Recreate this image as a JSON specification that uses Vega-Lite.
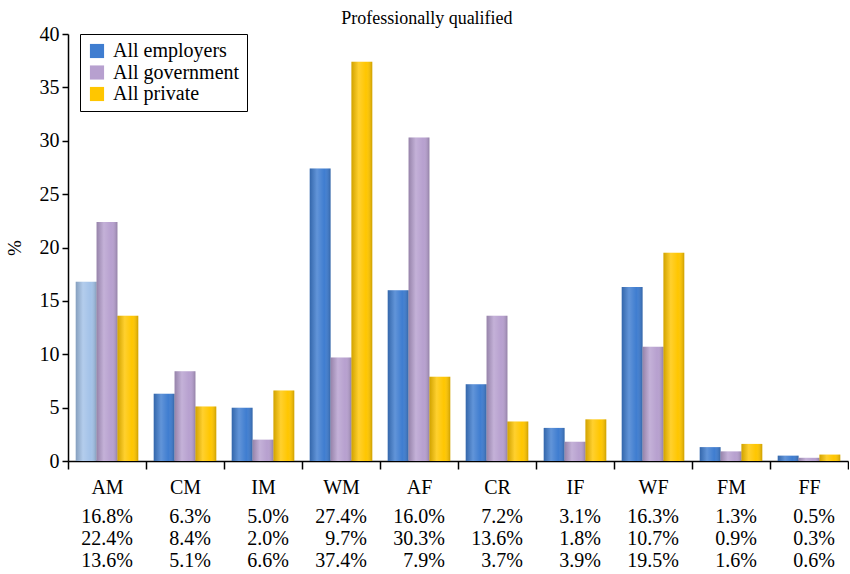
{
  "$schema": "https://vega.github.io/schema/vega-lite/v6.json",
  "padding": {"left": 5, "top": 10, "right": 0, "bottom": 0},
  "background": "white",
  "title": {"text": "Professionally qualified", "font": "Liberation Serif", "fontSize": 18, "fontWeight": "normal", "color": "black", "anchor": "middle", "offset": -4},
  "datasets": {
    "d": [
      {"cat": "AM", "series": "All employers", "value": 16.8},
      {"cat": "AM", "series": "All government", "value": 22.4},
      {"cat": "AM", "series": "All private", "value": 13.6},
      {"cat": "CM", "series": "All employers", "value": 6.3},
      {"cat": "CM", "series": "All government", "value": 8.4},
      {"cat": "CM", "series": "All private", "value": 5.1},
      {"cat": "IM", "series": "All employers", "value": 5.0},
      {"cat": "IM", "series": "All government", "value": 2.0},
      {"cat": "IM", "series": "All private", "value": 6.6},
      {"cat": "WM", "series": "All employers", "value": 27.4},
      {"cat": "WM", "series": "All government", "value": 9.7},
      {"cat": "WM", "series": "All private", "value": 37.4},
      {"cat": "AF", "series": "All employers", "value": 16.0},
      {"cat": "AF", "series": "All government", "value": 30.3},
      {"cat": "AF", "series": "All private", "value": 7.9},
      {"cat": "CR", "series": "All employers", "value": 7.2},
      {"cat": "CR", "series": "All government", "value": 13.6},
      {"cat": "CR", "series": "All private", "value": 3.7},
      {"cat": "IF", "series": "All employers", "value": 3.1},
      {"cat": "IF", "series": "All government", "value": 1.8},
      {"cat": "IF", "series": "All private", "value": 3.9},
      {"cat": "WF", "series": "All employers", "value": 16.3},
      {"cat": "WF", "series": "All government", "value": 10.7},
      {"cat": "WF", "series": "All private", "value": 19.5},
      {"cat": "FM", "series": "All employers", "value": 1.3},
      {"cat": "FM", "series": "All government", "value": 0.9},
      {"cat": "FM", "series": "All private", "value": 1.6},
      {"cat": "FF", "series": "All employers", "value": 0.5},
      {"cat": "FF", "series": "All government", "value": 0.3},
      {"cat": "FF", "series": "All private", "value": 0.6}
    ]
  },
  "spacing": 9,
  "vconcat": [
    {
      "width": 780,
      "height": 427,
      "data": {"name": "d"},
      "encoding": {
        "x": {
          "field": "cat", "type": "nominal",
          "sort": ["AM","CM","IM","WM","AF","CR","IF","WF","FM","FF"],
          "scale": {"paddingInner": 0, "paddingOuter": 0},
          "axis": {"title": null, "labelAngle": 0, "tickBand": "extent", "tickSize": 8, "labelPadding": 8, "labelFontSize": 20, "labelFont": "Liberation Serif", "domainWidth": 1.5, "tickWidth": 1.5}
        },
        "xOffset": {
          "field": "series", "type": "nominal",
          "scale": {"paddingInner": 0, "paddingOuter": 0.37}
        },
        "y": {
          "field": "value", "type": "quantitative",
          "scale": {"domain": [0, 40]},
          "axis": {"title": "%", "values": [0,5,10,15,20,25,30,35,40], "grid": false, "tickSize": 6, "labelPadding": 3, "labelFontSize": 20, "labelFont": "Liberation Serif", "titleFont": "Liberation Serif", "titleFontSize": 19, "titlePadding": 15, "domainWidth": 1.5, "tickWidth": 1.5}
        }
      },
      "layer": [
        {
          "mark": {"type": "bar"},
          "encoding": {
            "color": {
              "condition": {"test": "datum.cat === 'AM' && datum.series === 'All employers'", "value": "#a3c2e8"},
              "field": "series", "type": "nominal",
              "scale": {"domain": ["All employers","All government","All private"], "range": ["#3f7dd0","#b7a0cf","#ffc600"]},
              "legend": {"title": null, "orient": "none", "legendX": 12, "legendY": 0, "strokeColor": "black", "padding": 7, "symbolType": "square", "symbolSize": 200, "symbolStrokeWidth": 0, "labelFont": "Liberation Serif", "labelFontSize": 20, "rowPadding": 1.5, "labelOffset": 6, "fillColor": "white"}
            }
          }
        },
        {
          "mark": {
            "type": "bar",
            "fill": {
              "gradient": "linear", "x1": 0, "x2": 1, "y1": 0, "y2": 0,
              "stops": [
                {"offset": 0, "color": "rgba(0,0,0,0.18)"},
                {"offset": 0.35, "color": "rgba(255,255,255,0.18)"},
                {"offset": 0.7, "color": "rgba(255,255,255,0.0)"},
                {"offset": 1, "color": "rgba(0,0,0,0.2)"}
              ]
            }
          },
          "encoding": {}
        }
      ]
    },
    {
      "width": 780,
      "height": 66,
      "data": {"name": "d"},
      "transform": [{"calculate": "format(datum.value, '.1f') + '%'", "as": "label"}],
      "mark": {"type": "text", "align": "right", "dx": 26, "font": "Liberation Serif", "fontSize": 20, "baseline": "middle"},
      "encoding": {
        "x": {
          "field": "cat", "type": "nominal",
          "sort": ["AM","CM","IM","WM","AF","CR","IF","WF","FM","FF"],
          "scale": {"paddingInner": 0, "paddingOuter": 0},
          "axis": null
        },
        "y": {
          "field": "series", "type": "nominal",
          "sort": ["All employers","All government","All private"],
          "axis": null
        },
        "text": {"field": "label"},
        "color": {"value": "black"}
      }
    }
  ],
  "config": {
    "font": "Liberation Serif",
    "view": {"stroke": null},
    "axis": {"domainColor": "black", "tickColor": "black", "labelColor": "black", "titleColor": "black", "labelFont": "Liberation Serif", "titleFont": "Liberation Serif", "titleFontWeight": "normal"},
    "legend": {"labelFont": "Liberation Serif", "labelColor": "black"},
    "text": {"font": "Liberation Serif"}
  }
}
